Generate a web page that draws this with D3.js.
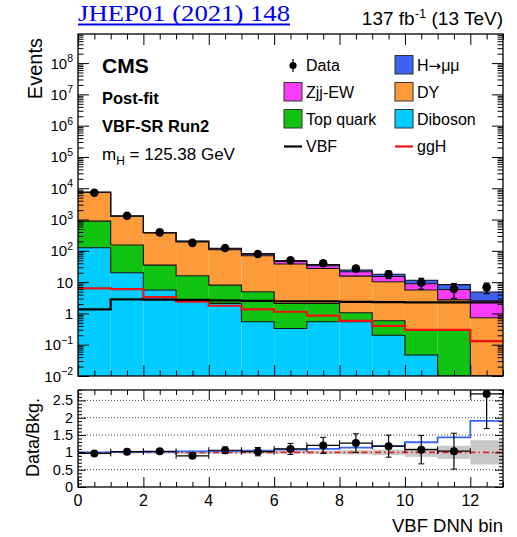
<!DOCTYPE html>
<html>
<head>
<meta charset="utf-8">
<script src="https://cdn.jsdelivr.net/npm/d3@7"></script>
<style>
  body { margin: 0; background: #fff; }
  svg { display: block; font-family: "Liberation Sans", Arial, Helvetica, sans-serif; }
</style>
</head>
<body>
<svg id="chart" width="517" height="537"></svg>
<script>
// ---- Data: VBF DNN bins 0..12 (post-fit yields, 137 fb^-1) ----
const binIndex   = [0, 1, 2, 3, 4, 5, 6, 7, 8, 9, 10, 11, 12];
const dataCounts = [7200, 1320, 390, 180, 123, 79, 50, 40, 27.3, 17.8, 9.6, 6.0, 6.8];
const dataErr    = [82, 36, 20, 13, 11, 9.3, 7.3, 7.7, 5.8, 4.8, 3.65, 3.0, 2.53];
const diboson    = [126, 20, 5.6, 2.5, 2.1, 0.54, 0.33, 0.54, 0.54, 0.20, 0.047, 0, 0];
const topQuark   = [764, 133, 29.4, 13.5, 5.9, 4.36, 1.77, 1.56, 0.51, 0.38, 0.253, 0.30, 0];
const drellYan   = [6525, 1133, 336, 176, 100, 65.1, 35.9, 25.2, 14.5, 9.72, 5.3, 2.4, 0.73];
const zjjEW      = [5, 8, 8, 8, 8, 7.5, 7.5, 6.0, 6.0, 4.8, 3.3, 3.1, 1.8];
const hmumu      = [7.6, 8.8, 6.1, 5.1, 4.4, 3.9, 3.5, 3.3, 2.9, 2.7, 2.6, 2.5, 2.3];
const vbfSignal  = [1.35, 2.8, 2.75, 2.7, 2.6, 2.5, 2.45, 2.45, 2.35, 2.3, 2.25, 2.25, 2.25];
const ggHSignal  = [6.3, 6.0, 3.3, 2.37, 1.76, 1.35, 1.13, 0.85, 0.58, 0.40, 0.30, 0.30, 0.13];
const bkgRelUnc  = [0.01, 0.02, 0.03, 0.05, 0.04, 0.04, 0.04, 0.05, 0.06, 0.08, 0.13, 0.19, 0.35];

const logTickExponents = [-2, -1, 0, 1, 2, 3, 4, 5, 6, 7, 8];
const ratioTickValues  = [0, 0.5, 1, 1.5, 2, 2.5];
const xTickValues      = [0, 2, 4, 6, 8, 10, 12];

// ---- Layout ----
const svg = d3.select("#chart");
const L = 78, R = 503;
const mainTop = 34, mainBot = 376;
const ratTop = 390, ratBot = 487;

const x = d3.scaleLinear().domain([0, 13]).range([L, R]);
const y = d3.scaleLog().domain([1e-2, Math.pow(10, 8.93)]).range([mainBot, mainTop]).clamp(true);
const yr = d3.scaleLinear().domain([0, 2.8]).range([ratBot, ratTop]);
const yv = v => y(Math.max(v, 1e-4));

const colors = {
  diboson: "#00ccff",
  top: "#11c411",
  dy: "#fd9a3a",
  zjj: "#f83cf8",
  h: "#3d62f2"
};

// clip paths
const defs = svg.append("defs");
defs.append("clipPath").attr("id", "clipMain").append("rect")
  .attr("x", L).attr("y", mainTop).attr("width", R - L).attr("height", mainBot - mainTop);
defs.append("clipPath").attr("id", "clipRatio").append("rect")
  .attr("x", L).attr("y", ratTop).attr("width", R - L).attr("height", ratBot - ratTop);

// ---- Stacked histogram ----
const rows = binIndex.map((b, i) => ({
  bin: b, diboson: diboson[i], top: topQuark[i], dy: drellYan[i], zjj: zjjEW[i], h: hmumu[i]
}));
const keys = ["diboson", "top", "dy", "zjj", "h"];
const series = d3.stack().keys(keys)(rows);

const gMain = svg.append("g").attr("clip-path", "url(#clipMain)");

series.forEach(s => {
  gMain.append("g").selectAll("rect").data(s).join("rect")
    .attr("x", d => x(d.data.bin))
    .attr("width", d => x(d.data.bin + 1) - x(d.data.bin))
    .attr("y", d => yv(d[1]))
    .attr("height", d => Math.max(0, yv(d[0]) - yv(d[1])))
    .attr("fill", colors[s.key]);
});

// step outline helper: points at bin lower edges, last value repeated at upper edge
const stepLine = (sc) => d3.line().x(d => x(d[0])).y(d => sc(d[1])).curve(d3.curveStepAfter);
const stepPts = vals => vals.map((v, i) => [binIndex[i], v]).concat([[binIndex[vals.length - 1] + 1, vals[vals.length - 1]]]);

series.forEach(s => {
  const tops = s.map(d => d[1]);
  gMain.append("path").attr("d", stepLine(yv)(stepPts(tops)))
    .attr("fill", "none").attr("stroke", "#111").attr("stroke-width", 1.1);
});

// signal component lines
gMain.append("path").attr("d", stepLine(yv)(stepPts(ggHSignal)))
  .attr("fill", "none").attr("stroke", "#ee1111").attr("stroke-width", 2.2);
gMain.append("path").attr("d", stepLine(yv)(stepPts(vbfSignal)))
  .attr("fill", "none").attr("stroke", "#000").attr("stroke-width", 2.2);

// data points
const gData = svg.append("g").attr("clip-path", "url(#clipMain)");
binIndex.forEach((b, i) => {
  const cx = x(b + 0.5);
  const yHi = y(dataCounts[i] + dataErr[i]);
  const yLo = yv(dataCounts[i] - dataErr[i]);
  gData.append("line").attr("x1", cx).attr("x2", cx).attr("y1", yHi).attr("y2", yLo)
    .attr("stroke", "#000").attr("stroke-width", 1.2);
  [yHi, yLo].forEach(yy => gData.append("line").attr("x1", cx - 3).attr("x2", cx + 3)
    .attr("y1", yy).attr("y2", yy).attr("stroke", "#000").attr("stroke-width", 1.2));
  gData.append("circle").attr("cx", cx).attr("cy", y(dataCounts[i])).attr("r", 4.3).attr("fill", "#000");
});

// ---- Ratio panel ----
const bkgTotal = binIndex.map((b, i) => diboson[i] + topQuark[i] + drellYan[i] + zjjEW[i]);
const gRat = svg.append("g").attr("clip-path", "url(#clipRatio)");

// background uncertainty band
gRat.selectAll("rect.unc").data(binIndex).join("rect")
  .attr("x", b => x(b)).attr("width", b => x(b + 1) - x(b))
  .attr("y", (b, i) => yr(1 + bkgRelUnc[i]))
  .attr("height", (b, i) => yr(1 - bkgRelUnc[i]) - yr(1 + bkgRelUnc[i]))
  .attr("fill", "#c8c8c8");

// dotted grid
[0.5, 1.5, 2, 2.5].forEach(v => gRat.append("line")
  .attr("x1", L).attr("x2", R).attr("y1", yr(v)).attr("y2", yr(v))
  .attr("stroke", "#444").attr("stroke-width", 1).attr("stroke-dasharray", "1,2"));

// unity reference
gRat.append("line").attr("x1", L).attr("x2", R).attr("y1", yr(1)).attr("y2", yr(1))
  .attr("stroke", "#e32222").attr("stroke-width", 1.8).attr("stroke-dasharray", "6,3,1.5,3");

// signal+background over background
const sbRatio = binIndex.map((b, i) => (bkgTotal[i] + hmumu[i]) / bkgTotal[i]);
gRat.append("path").attr("d", stepLine(yr)(stepPts(sbRatio)))
  .attr("fill", "none").attr("stroke", "#3a66ee").attr("stroke-width", 1.8);

// data / background
binIndex.forEach((b, i) => {
  const r = dataCounts[i] / bkgTotal[i];
  const e = dataErr[i] / bkgTotal[i];
  const cx = x(b + 0.5), cy = yr(r);
  const x0 = x(b), x1 = x(b + 1);
  gRat.append("line").attr("x1", x0).attr("x2", x1).attr("y1", cy).attr("y2", cy)
    .attr("stroke", "#000").attr("stroke-width", 1.2);
  [x0, x1].forEach(xx => gRat.append("line").attr("x1", xx).attr("x2", xx)
    .attr("y1", cy - 3).attr("y2", cy + 3).attr("stroke", "#000").attr("stroke-width", 1));
  const yHi = yr(r + e), yLo = yr(r - e);
  gRat.append("line").attr("x1", cx).attr("x2", cx).attr("y1", yHi).attr("y2", yLo)
    .attr("stroke", "#000").attr("stroke-width", 1.2);
  [yHi, yLo].forEach(yy => gRat.append("line").attr("x1", cx - 3).attr("x2", cx + 3)
    .attr("y1", yy).attr("y2", yy).attr("stroke", "#000").attr("stroke-width", 1));
  gRat.append("circle").attr("cx", cx).attr("cy", cy).attr("r", 4).attr("fill", "#000");
});

// ---- Axes (inward ticks on all four sides) ----
function ticksAt(axisFn, scale, values, size, transform) {
  const g = svg.append("g").attr("transform", transform)
    .call(axisFn(scale).tickValues(values).tickSize(size).tickFormat(""));
  g.select(".domain").remove();
  g.selectAll(".tick line").attr("stroke", "#000").attr("stroke-width", 1);
}

// main log y
const majorLog = logTickExponents.map(k => Math.pow(10, k));
const minorLog = [];
logTickExponents.forEach(k => { for (let m = 2; m <= 9; m++) { const v = m * Math.pow(10, k); if (v < y.domain()[1]) minorLog.push(v); } });
ticksAt(d3.axisRight, y, majorLog, 11, `translate(${L},0)`);
ticksAt(d3.axisRight, y, minorLog, 5.5, `translate(${L},0)`);
ticksAt(d3.axisLeft, y, majorLog, 11, `translate(${R},0)`);
ticksAt(d3.axisLeft, y, minorLog, 5.5, `translate(${R},0)`);

// x ticks, both panels
const xMinor = d3.range(0, 13.01, 0.5).filter(v => v % 2 !== 0);
ticksAt(d3.axisTop, x, xTickValues, 11, `translate(0,${mainBot})`);
ticksAt(d3.axisTop, x, xMinor, 5.5, `translate(0,${mainBot})`);
ticksAt(d3.axisBottom, x, xTickValues, 11, `translate(0,${mainTop})`);
ticksAt(d3.axisBottom, x, xMinor, 5.5, `translate(0,${mainTop})`);
ticksAt(d3.axisTop, x, xTickValues, 10, `translate(0,${ratBot})`);
ticksAt(d3.axisTop, x, xMinor, 5, `translate(0,${ratBot})`);
ticksAt(d3.axisBottom, x, xTickValues, 10, `translate(0,${ratTop})`);
ticksAt(d3.axisBottom, x, xMinor, 5, `translate(0,${ratTop})`);

// ratio y ticks
const rMinor = d3.range(0, 2.81, 0.1).map(v => +v.toFixed(2)).filter(v => Math.abs(v * 2 - Math.round(v * 2)) > 1e-6);
ticksAt(d3.axisRight, yr, ratioTickValues, 8, `translate(${L},0)`);
ticksAt(d3.axisRight, yr, rMinor, 4, `translate(${L},0)`);
ticksAt(d3.axisLeft, yr, ratioTickValues, 8, `translate(${R},0)`);
ticksAt(d3.axisLeft, yr, rMinor, 4, `translate(${R},0)`);

// frames
[[mainTop, mainBot], [ratTop, ratBot]].forEach(([t, b]) => svg.append("rect")
  .attr("x", L).attr("y", t).attr("width", R - L).attr("height", b - t)
  .attr("fill", "none").attr("stroke", "#000").attr("stroke-width", 1.3));

// ---- Tick labels ----
logTickExponents.forEach(k => {
  const t = svg.append("text").attr("x", 73).attr("y", y(Math.pow(10, k)) + 5.5)
    .attr("text-anchor", "end").attr("font-size", 15);
  if (k === 0) t.text("1");
  else if (k === 1) t.text("10");
  else {
    t.append("tspan").text("10");
    t.append("tspan").attr("dy", -6.5).attr("font-size", 10.5).text(k < 0 ? "\u2212" + (-k) : String(k));
  }
});
ratioTickValues.forEach(v => svg.append("text").attr("x", 73).attr("y", yr(v) + 5)
  .attr("text-anchor", "end").attr("font-size", 14.5).text(String(v)));
xTickValues.forEach(v => svg.append("text").attr("x", x(v)).attr("y", 506)
  .attr("text-anchor", "middle").attr("font-size", 16).text(String(v)));

// ---- Axis titles ----
svg.append("text").attr("transform", `translate(42,38) rotate(-90)`)
  .attr("text-anchor", "end").attr("font-size", 20).text("Events");
svg.append("text").attr("transform", `translate(39,437.5) rotate(-90)`)
  .attr("text-anchor", "middle").attr("font-size", 18).text("Data/Bkg.");
svg.append("text").attr("x", R).attr("y", 532).attr("text-anchor", "end")
  .attr("font-size", 18.5).text("VBF DNN bin");

// ---- Header ----
svg.append("text").attr("x", L).attr("y", 21)
  .attr("font-family", "'Liberation Serif', 'DejaVu Serif', serif").attr("font-size", 24)
  .attr("fill", "#0000ee").attr("textLength", 212).attr("lengthAdjust", "spacingAndGlyphs")
  .text("JHEP01 (2021) 148");
svg.append("line").attr("x1", L).attr("x2", L + 212).attr("y1", 24.5).attr("y2", 24.5)
  .attr("stroke", "#0000ee").attr("stroke-width", 1.8);

const lumi = svg.append("text").attr("x", R).attr("y", 25).attr("text-anchor", "end").attr("font-size", 19);
lumi.append("tspan").text("137 fb");
lumi.append("tspan").attr("dy", -7).attr("font-size", 13).text("-1");
lumi.append("tspan").attr("dy", 7).text(" (13 TeV)");

// ---- Labels inside plot ----
svg.append("text").attr("x", 102).attr("y", 73).attr("font-size", 21).attr("font-weight", "bold").text("CMS");
svg.append("text").attr("x", 102).attr("y", 104).attr("font-size", 16.5).attr("font-weight", "bold").text("Post-fit");
svg.append("text").attr("x", 102).attr("y", 132).attr("font-size", 16.5).attr("font-weight", "bold").text("VBF-SR Run2");
const mh = svg.append("text").attr("x", 102).attr("y", 160).attr("font-size", 17);
mh.append("tspan").text("m");
mh.append("tspan").attr("dy", 5).attr("font-size", 12).text("H");
mh.append("tspan").attr("dy", -5).text(" = 125.38 GeV");

// ---- Legend ----
const legendRows = [71, 98, 125, 152];
const col1 = 284, col2 = 395;
function legSwatch(x0, base, color) {
  svg.append("rect").attr("x", x0).attr("y", base - 15.5).attr("width", 18).attr("height", 18.5)
    .attr("fill", color).attr("stroke", "#333").attr("stroke-width", 1);
}
function legBox(x0, base, color, label) {
  legSwatch(x0, base, color);
  svg.append("text").attr("x", x0 + 22).attr("y", base).attr("font-size", 16).text(label);
}
function legLine(x0, base, color, label) {
  svg.append("line").attr("x1", x0).attr("x2", x0 + 18).attr("y1", base - 5.5).attr("y2", base - 5.5)
    .attr("stroke", color).attr("stroke-width", 2.2);
  svg.append("text").attr("x", x0 + 22).attr("y", base).attr("font-size", 16).text(label);
}
// data marker
svg.append("line").attr("x1", col1 + 9).attr("x2", col1 + 9).attr("y1", legendRows[0] - 12).attr("y2", legendRows[0] + 1)
  .attr("stroke", "#000").attr("stroke-width", 1.2);
svg.append("circle").attr("cx", col1 + 9).attr("cy", legendRows[0] - 5.5).attr("r", 3.6).attr("fill", "#000");
svg.append("text").attr("x", col1 + 22).attr("y", legendRows[0]).attr("font-size", 16).text("Data");

// H -> mu mu entry, arrow taken from DejaVu Sans for a full-size glyph
legSwatch(col2, legendRows[0], colors.h);
const hLabel = svg.append("text").attr("x", col2 + 22).attr("y", legendRows[0]).attr("font-size", 16);
hLabel.append("tspan").text("H");
hLabel.append("tspan").attr("font-family", "'DejaVu Sans', sans-serif").attr("font-size", 15).text("\u2192");
hLabel.append("tspan").text("\u03bc\u03bc");

legBox(col1, legendRows[1], colors.zjj, "Zjj-EW");
legBox(col2, legendRows[1], colors.dy, "DY");
legBox(col1, legendRows[2], colors.top, "Top quark");
legBox(col2, legendRows[2], colors.diboson, "Diboson");
legLine(col1, legendRows[3], "#000", "VBF");
legLine(col2, legendRows[3], "#ee1111", "ggH");
</script>
</body>
</html>
